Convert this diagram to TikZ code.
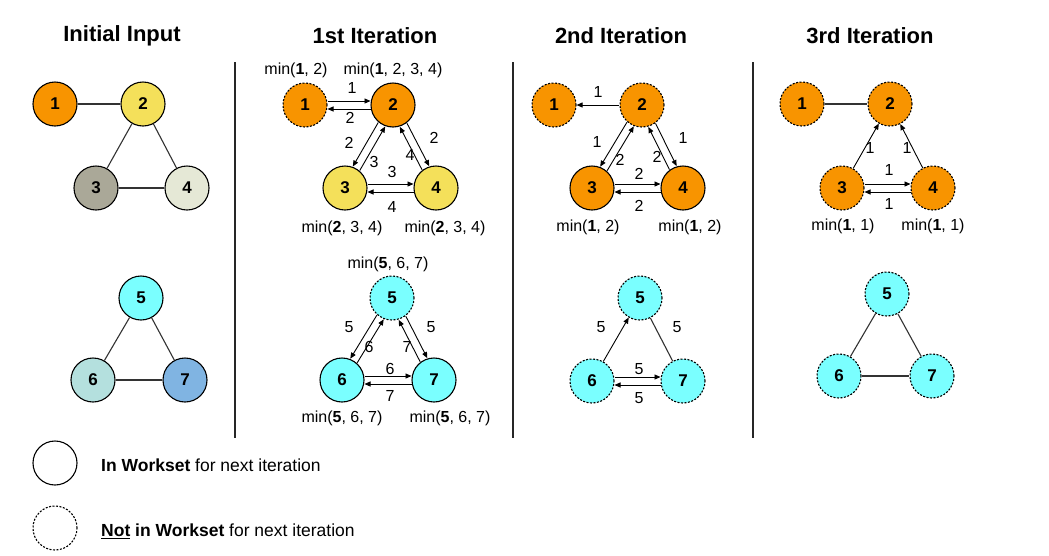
\documentclass[tikz,border=0pt]{standalone}
\usepackage{fontspec}
\setmainfont{Liberation Sans}
\usetikzlibrary{calc,arrows.meta}
\definecolor{cOrange}{RGB}{248,148,0}
\definecolor{cYellow}{RGB}{244,224,90}
\definecolor{cGray}{RGB}{170,168,152}
\definecolor{cLight}{RGB}{229,232,214}
\definecolor{cCyan}{RGB}{122,255,255}
\definecolor{cTeal}{RGB}{180,224,222}
\definecolor{cBlue}{RGB}{128,180,226}
\newcommand\pairArrL[2]{\draw[arrp] ($(#1)!4pt!90:(#2)$) -- ($(#2)!4pt!-90:(#1)$);}
\newcommand\pairArrR[2]{\draw[arrp] ($(#1)!4pt!-90:(#2)$) -- ($(#2)!4pt!90:(#1)$);}
\tikzset{
  v/.style={circle, draw=black, line width=1.1pt, minimum size=44pt, inner sep=0pt,
    font=\fontsize{17}{17}\selectfont\bfseries},
  vd/.style={v, dash pattern=on 2pt off 1.5pt},
  lbl/.style={font=\fontsize{16}{18}\selectfont, inner sep=0pt},
  key/.style={font=\fontsize{17.5}{20}\selectfont, inner sep=0pt},
  ttl/.style={font=\fontsize{22}{24}\selectfont\bfseries, inner sep=0pt},
  arr/.style={-{Triangle[length=6pt,width=5pt]}, line width=0.9pt},
  arrp/.style={arr, shorten <=22.5pt, shorten >=22.5pt},
  edge/.style={line width=1.1pt, draw=black!80},
  sep/.style={line width=2.2pt, draw=black!85},
}
\begin{document}
\begin{tikzpicture}[x=1pt,y=-1pt]
\useasboundingbox (0,0) rectangle (1049,555);
\fill[white] (0,0) rectangle (1049,555);

% titles
\node[ttl] (t0) at (122,36) {Initial Input};
\node[ttl] (t1) at (375,36) {1st Iteration};
\node[ttl] (t2) at (621,36) {2nd Iteration};
\node[ttl] (t3) at (870,36) {3rd Iteration};

% separators
\coordinate (s1a) at (235,62); \coordinate (s1b) at (235,438);
\coordinate (s2a) at (513,62); \coordinate (s2b) at (513,438);
\coordinate (s3a) at (753,62); \coordinate (s3b) at (753,438);
\draw[sep] (s1a) -- (s1b);
\draw[sep] (s2a) -- (s2b);
\draw[sep] (s3a) -- (s3b);

% ---------- Initial input ----------
\node[v, fill=cOrange] (i1) at (55,104) {1};
\node[v, fill=cYellow] (i2) at (143,104) {2};
\node[v, fill=cGray]   (i3) at (96,188) {3};
\node[v, fill=cLight]  (i4) at (187,188) {4};
\node[v, fill=cCyan]   (i5) at (141,298) {5};
\node[v, fill=cTeal]   (i6) at (93,380) {6};
\node[v, fill=cBlue]   (i7) at (185,380) {7};
\draw[edge] (i1) -- (i2);
\draw[edge] (i2) -- (i3);
\draw[edge] (i2) -- (i4);
\draw[edge] (i3) -- (i4);
\draw[edge] (i5) -- (i6);
\draw[edge] (i5) -- (i7);
\draw[edge] (i6) -- (i7);

% ---------- 1st iteration ----------
\node[vd, fill=cOrange] (a1) at (305,105) {1};
\node[v, fill=cOrange]  (a2) at (393,105) {2};
\node[v, fill=cYellow]  (a3) at (345,188) {3};
\node[v, fill=cYellow]  (a4) at (436,188) {4};
\node[vd, fill=cCyan]   (a5) at (392,298) {5};
\node[v, fill=cCyan]    (a6) at (342,380) {6};
\node[v, fill=cCyan]    (a7) at (434,380) {7};
\pairArrL{a1}{a2} \pairArrL{a2}{a1}
\pairArrR{a2}{a3} \pairArrR{a3}{a2}
\pairArrL{a2}{a4} \pairArrL{a4}{a2}
\pairArrL{a3}{a4} \pairArrL{a4}{a3}
\pairArrR{a5}{a6} \pairArrR{a6}{a5}
\pairArrL{a5}{a7} \pairArrL{a7}{a5}
\pairArrL{a6}{a7} \pairArrL{a7}{a6}
\node[lbl] (la1) at (352,88) {1};
\node[lbl] (la2) at (350,118) {2};
\node[lbl] (la3) at (349,143) {2};
\node[lbl] (la4) at (374,162) {3};
\node[lbl] (la5) at (434,138) {2};
\node[lbl] (la6) at (410,155) {4};
\node[lbl] (la7) at (392,172) {3};
\node[lbl] (la8) at (392,207) {4};
\node[lbl] (la9) at (349,327) {5};
\node[lbl] (la10) at (369,347) {6};
\node[lbl] (la11) at (431,327) {5};
\node[lbl] (la12) at (407,347) {7};
\node[lbl] (la13) at (390,369) {6};
\node[lbl] (la14) at (390,396) {7};
\node[lbl] (ma1) at (296,70) {min(\textbf{1}, 2)};
\node[lbl] (ma2) at (393,70) {min(\textbf{1}, 2, 3, 4)};
\node[lbl] (ma3) at (342,228) {min(\textbf{2}, 3, 4)};
\node[lbl] (ma4) at (445,228) {min(\textbf{2}, 3, 4)};
\node[lbl] (ma5) at (388,264) {min(\textbf{5}, 6, 7)};
\node[lbl] (ma6) at (342,418) {min(\textbf{5}, 6, 7)};
\node[lbl] (ma7) at (450,418) {min(\textbf{5}, 6, 7)};

% ---------- 2nd iteration ----------
\node[vd, fill=cOrange] (b1) at (554,105) {1};
\node[vd, fill=cOrange] (b2) at (642,105) {2};
\node[v, fill=cOrange]  (b3) at (592,188) {3};
\node[v, fill=cOrange]  (b4) at (683,188) {4};
\node[vd, fill=cCyan]   (b5) at (640,298) {5};
\node[vd, fill=cCyan]   (b6) at (592,381) {6};
\node[vd, fill=cCyan]   (b7) at (683,381) {7};
\draw[arr] (b2) -- (b1);
\pairArrR{b2}{b3} \pairArrR{b3}{b2}
\pairArrL{b2}{b4} \pairArrL{b4}{b2}
\pairArrL{b3}{b4} \pairArrL{b4}{b3}
\draw[arr] (b6) -- (b5);
\draw[edge] (b5) -- (b7);
\pairArrL{b6}{b7} \pairArrL{b7}{b6}
\node[lbl] (lb1) at (598,92) {1};
\node[lbl] (lb2) at (597,142) {1};
\node[lbl] (lb3) at (620,160) {2};
\node[lbl] (lb4) at (683,138) {1};
\node[lbl] (lb5) at (657,157) {2};
\node[lbl] (lb6) at (639,174) {2};
\node[lbl] (lb7) at (639,206) {2};
\node[lbl] (lb8) at (601,327) {5};
\node[lbl] (lb9) at (677,327) {5};
\node[lbl] (lb10) at (639,369) {5};
\node[lbl] (lb11) at (639,398) {5};
\node[lbl] (mb1) at (588,227) {min(\textbf{1}, 2)};
\node[lbl] (mb2) at (690,227) {min(\textbf{1}, 2)};

% ---------- 3rd iteration ----------
\node[vd, fill=cOrange] (c1) at (802,104) {1};
\node[vd, fill=cOrange] (c2) at (890,104) {2};
\node[vd, fill=cOrange] (c3) at (842,188) {3};
\node[vd, fill=cOrange] (c4) at (933,188) {4};
\node[vd, fill=cCyan]   (c5) at (887,294) {5};
\node[vd, fill=cCyan]   (c6) at (839,376) {6};
\node[vd, fill=cCyan]   (c7) at (932,376) {7};
\draw[edge] (c1) -- (c2);
\draw[arr] (c3) -- (c2);
\draw[arr] (c4) -- (c2);
\pairArrL{c3}{c4} \pairArrL{c4}{c3}
\draw[edge] (c5) -- (c6);
\draw[edge] (c5) -- (c7);
\draw[edge] (c6) -- (c7);
\node[lbl] (lc1) at (870,148) {1};
\node[lbl] (lc2) at (907,148) {1};
\node[lbl] (lc3) at (889,170) {1};
\node[lbl] (lc4) at (889,204) {1};
\node[lbl] (mc1) at (843,226) {min(\textbf{1}, 1)};
\node[lbl] (mc2) at (933,226) {min(\textbf{1}, 1)};

% ---------- legend ----------
\node[v] (k1) at (55,463) {};
\node[vd] (k2) at (55,528) {};
\node[key, anchor=west] (kt1) at (101,465) {\textbf{In Workset} for next iteration};
\node[key, anchor=west] (kt2) at (101,531) {\textbf{\underline{Not} in Workset} for next iteration};
\end{tikzpicture}
\end{document}
